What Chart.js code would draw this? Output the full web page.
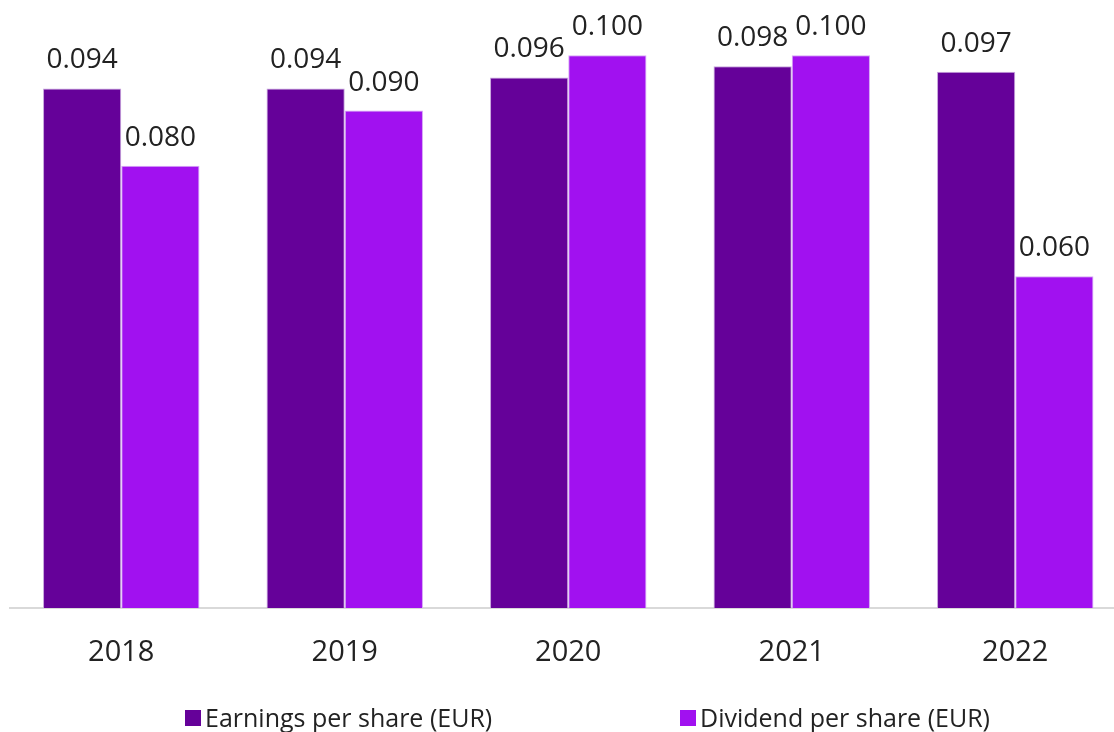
<!DOCTYPE html>
<html>
<head>
<meta charset="utf-8">
<script src="https://cdn.jsdelivr.net/npm/chart.js@4/dist/chart.umd.min.js"></script>
<style>
html,body{margin:0;padding:0;background:#fff;overflow:hidden;}
#wrap{position:relative;width:1127px;height:732px;}
</style>
</head>
<body>
<div id="wrap"><canvas id="c"></canvas></div>
<script>
const categories = ['2018', '2019', '2020', '2021', '2022'];
const earningsPerShare = [0.094, 0.094, 0.096, 0.098, 0.097];
const dividendPerShare = [0.080, 0.090, 0.100, 0.100, 0.060];
const seriesLabels = ['Earnings per share (EUR)', 'Dividend per share (EUR)'];
const seriesColors = ['#650199', '#a111f0'];

const FONT = '"Open Sans", Roboto, sans-serif';

const dataLabels = {
  id: 'dataLabels',
  afterDatasetsDraw(chart) {
    const ctx = chart.ctx;
    ctx.save();
    ctx.font = '28px ' + FONT;
    ctx.fillStyle = '#222222';
    ctx.textAlign = 'center';
    ctx.textBaseline = 'alphabetic';
    chart.data.datasets.forEach((ds, di) => {
      const meta = chart.getDatasetMeta(di);
      meta.data.forEach((el, i) => {
        ctx.fillText(ds.data[i].toFixed(3), el.x, el.y - 20);
      });
    });
    ctx.restore();
  }
};

const legendPos = [185, 680];
const customLegend = {
  id: 'customLegend',
  afterDraw(chart) {
    const ctx = chart.ctx;
    ctx.save();
    ctx.font = '25px ' + FONT;
    ctx.textBaseline = 'alphabetic';
    ctx.textAlign = 'left';
    chart.data.datasets.forEach((ds, di) => {
      const x = legendPos[di];
      ctx.fillStyle = ds.backgroundColor;
      ctx.fillRect(x, 710, 16, 16);
      ctx.fillStyle = '#222222';
      ctx.fillText(ds.label, x + 20, 727);
    });
    ctx.restore();
  }
};

new Chart(document.getElementById('c'), {
  type: 'bar',
  data: {
    labels: categories,
    datasets: [
      { label: seriesLabels[0], data: earningsPerShare, backgroundColor: seriesColors[0], borderColor: '#c8a6de', borderWidth: 1 },
      { label: seriesLabels[1], data: dividendPerShare, backgroundColor: seriesColors[1], borderColor: '#d6a8f5', borderWidth: 1 }
    ]
  },
  options: {
    responsive: true,
    maintainAspectRatio: false,
    animation: false,
    layout: { padding: { left: 9.5, right: 0, top: 0, bottom: 0 } },
    datasets: { bar: { barPercentage: 1, categoryPercentage: 0.7 } },
    plugins: { legend: { display: false }, tooltip: { enabled: false } },
    scales: {
      x: {
        grid: { display: false, drawTicks: false },
        border: { display: true, color: '#d9d9d9', width: 2 },
        ticks: { color: '#222222', font: { family: FONT, size: 29 }, padding: 27 },
        afterFit(scale) { scale.height = 124; }
      },
      y: {
        display: false,
        min: 0,
        max: 0.11
      }
    }
  },
  plugins: [dataLabels, customLegend]
});
</script>
</body>
</html>
